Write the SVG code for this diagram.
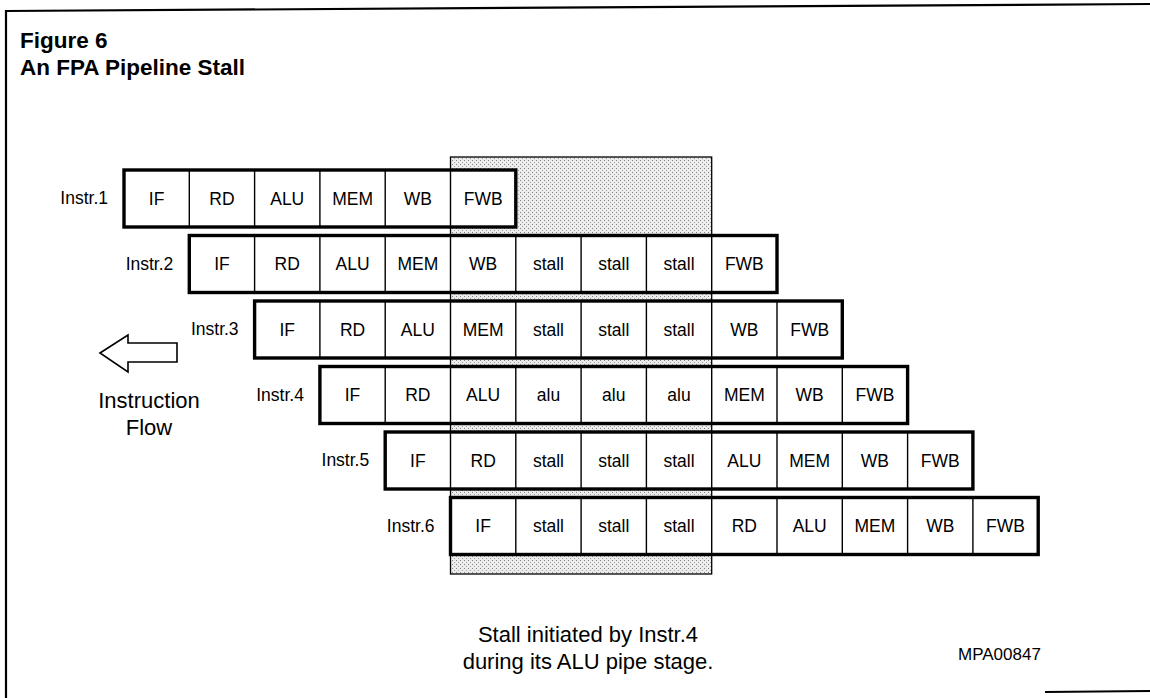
<svg xmlns="http://www.w3.org/2000/svg" width="1150" height="698" viewBox="0 0 1150 698">
<defs>
<pattern id="dots" width="4" height="4" patternUnits="userSpaceOnUse">
<rect width="4" height="4" fill="#ececec"/>
<rect x="0" y="0" width="1" height="1" fill="#808080"/>
<rect x="2" y="2" width="1" height="1" fill="#a0a0a0"/>
</pattern>
</defs>
<style>
.frame{fill:none;stroke:#000;stroke-width:2.2}
.bg{fill:#fff}
.div{stroke:#000;stroke-width:1.4;fill:none}
.outer{fill:none;stroke:#000;stroke-width:3.4}
.t{font-family:"Liberation Sans",Arial,Helvetica,sans-serif;font-size:17.5px;text-anchor:middle;fill:#000}
.lbl{font-family:"Liberation Sans",Arial,Helvetica,sans-serif;font-size:17.5px;text-anchor:end;fill:#000}
.title{font-family:"Liberation Sans",Arial,Helvetica,sans-serif;font-size:22.5px;font-weight:bold;fill:#000}
.note{font-family:"Liberation Sans",Arial,Helvetica,sans-serif;font-size:22px;text-anchor:middle;fill:#000}
.code{font-family:"Liberation Sans",Arial,Helvetica,sans-serif;font-size:17px;fill:#000}
</style>
<rect width="1150" height="698" fill="#fff"/>
<g id="frame">
<line class="frame" x1="6" y1="11" x2="1150" y2="4"/>
<line class="frame" x1="6" y1="10" x2="6" y2="698"/>
<line class="frame" x1="1045" y1="692" x2="1150" y2="691"/>
</g>
<g id="title">
<text class="title" x="20" y="48">Figure 6</text>
<text class="title" x="20" y="75">An FPA Pipeline Stall</text>
</g>
<g id="stall-region">
<rect x="450.5" y="157" width="261.2" height="417" fill="url(#dots)" stroke="#000" stroke-width="1.3"/>
</g>
<g id="instr1" transform="translate(124,170)">
<rect class="bg" x="0" y="0" width="391.8" height="57"/>
<path class="div" d="M65.3 0V57M130.6 0V57M195.9 0V57M261.2 0V57M326.5 0V57"/>
<rect class="outer" x="0" y="0" width="391.8" height="57"/>
<text class="t" x="32.65" y="34.5">IF</text>
<text class="t" x="97.95" y="34.5">RD</text>
<text class="t" x="163.25" y="34.5">ALU</text>
<text class="t" x="228.55" y="34.5">MEM</text>
<text class="t" x="293.85" y="34.5">WB</text>
<text class="t" x="359.15" y="34.5">FWB</text>
<text class="lbl" x="-16" y="34">Instr.1</text>
</g>
<g id="instr2" transform="translate(189.3,235.5)">
<rect class="bg" x="0" y="0" width="587.7" height="57"/>
<path class="div" d="M65.3 0V57M130.6 0V57M195.9 0V57M261.2 0V57M326.5 0V57M391.8 0V57M457.1 0V57M522.4 0V57"/>
<rect class="outer" x="0" y="0" width="587.7" height="57"/>
<text class="t" x="32.65" y="34.5">IF</text>
<text class="t" x="97.95" y="34.5">RD</text>
<text class="t" x="163.25" y="34.5">ALU</text>
<text class="t" x="228.55" y="34.5">MEM</text>
<text class="t" x="293.85" y="34.5">WB</text>
<text class="t" x="359.15" y="34.5">stall</text>
<text class="t" x="424.45" y="34.5">stall</text>
<text class="t" x="489.75" y="34.5">stall</text>
<text class="t" x="555.05" y="34.5">FWB</text>
<text class="lbl" x="-16" y="34">Instr.2</text>
</g>
<g id="instr3" transform="translate(254.6,301)">
<rect class="bg" x="0" y="0" width="587.7" height="57"/>
<path class="div" d="M65.3 0V57M130.6 0V57M195.9 0V57M261.2 0V57M326.5 0V57M391.8 0V57M457.1 0V57M522.4 0V57"/>
<rect class="outer" x="0" y="0" width="587.7" height="57"/>
<text class="t" x="32.65" y="34.5">IF</text>
<text class="t" x="97.95" y="34.5">RD</text>
<text class="t" x="163.25" y="34.5">ALU</text>
<text class="t" x="228.55" y="34.5">MEM</text>
<text class="t" x="293.85" y="34.5">stall</text>
<text class="t" x="359.15" y="34.5">stall</text>
<text class="t" x="424.45" y="34.5">stall</text>
<text class="t" x="489.75" y="34.5">WB</text>
<text class="t" x="555.05" y="34.5">FWB</text>
<text class="lbl" x="-16" y="34">Instr.3</text>
</g>
<g id="instr4" transform="translate(319.9,366.5)">
<rect class="bg" x="0" y="0" width="587.7" height="57"/>
<path class="div" d="M65.3 0V57M130.6 0V57M195.9 0V57M261.2 0V57M326.5 0V57M391.8 0V57M457.1 0V57M522.4 0V57"/>
<rect class="outer" x="0" y="0" width="587.7" height="57"/>
<text class="t" x="32.65" y="34.5">IF</text>
<text class="t" x="97.95" y="34.5">RD</text>
<text class="t" x="163.25" y="34.5">ALU</text>
<text class="t" x="228.55" y="34.5">alu</text>
<text class="t" x="293.85" y="34.5">alu</text>
<text class="t" x="359.15" y="34.5">alu</text>
<text class="t" x="424.45" y="34.5">MEM</text>
<text class="t" x="489.75" y="34.5">WB</text>
<text class="t" x="555.05" y="34.5">FWB</text>
<text class="lbl" x="-16" y="34">Instr.4</text>
</g>
<g id="instr5" transform="translate(385.2,432)">
<rect class="bg" x="0" y="0" width="587.7" height="57"/>
<path class="div" d="M65.3 0V57M130.6 0V57M195.9 0V57M261.2 0V57M326.5 0V57M391.8 0V57M457.1 0V57M522.4 0V57"/>
<rect class="outer" x="0" y="0" width="587.7" height="57"/>
<text class="t" x="32.65" y="34.5">IF</text>
<text class="t" x="97.95" y="34.5">RD</text>
<text class="t" x="163.25" y="34.5">stall</text>
<text class="t" x="228.55" y="34.5">stall</text>
<text class="t" x="293.85" y="34.5">stall</text>
<text class="t" x="359.15" y="34.5">ALU</text>
<text class="t" x="424.45" y="34.5">MEM</text>
<text class="t" x="489.75" y="34.5">WB</text>
<text class="t" x="555.05" y="34.5">FWB</text>
<text class="lbl" x="-16" y="34">Instr.5</text>
</g>
<g id="instr6" transform="translate(450.5,497.5)">
<rect class="bg" x="0" y="0" width="587.7" height="57"/>
<path class="div" d="M65.3 0V57M130.6 0V57M195.9 0V57M261.2 0V57M326.5 0V57M391.8 0V57M457.1 0V57M522.4 0V57"/>
<rect class="outer" x="0" y="0" width="587.7" height="57"/>
<text class="t" x="32.65" y="34.5">IF</text>
<text class="t" x="97.95" y="34.5">stall</text>
<text class="t" x="163.25" y="34.5">stall</text>
<text class="t" x="228.55" y="34.5">stall</text>
<text class="t" x="293.85" y="34.5">RD</text>
<text class="t" x="359.15" y="34.5">ALU</text>
<text class="t" x="424.45" y="34.5">MEM</text>
<text class="t" x="489.75" y="34.5">WB</text>
<text class="t" x="555.05" y="34.5">FWB</text>
<text class="lbl" x="-16" y="34">Instr.6</text>
</g>
<g id="flow-arrow">
<polygon points="100,353 128,335 128,343 177,343 177,362 128,362 128,372" fill="#fff" stroke="#000" stroke-width="1.6" stroke-linejoin="miter"/>
<text class="note" x="149" y="408">Instruction</text>
<text class="note" x="149" y="435">Flow</text>
</g>
<g id="connectors"></g>
<g id="caption">
<text class="note" x="588" y="642">Stall initiated by Instr.4</text>
<text class="note" x="588" y="669">during its ALU pipe stage.</text>
<text class="code" x="958" y="660">MPA00847</text>
</g>
</svg>
